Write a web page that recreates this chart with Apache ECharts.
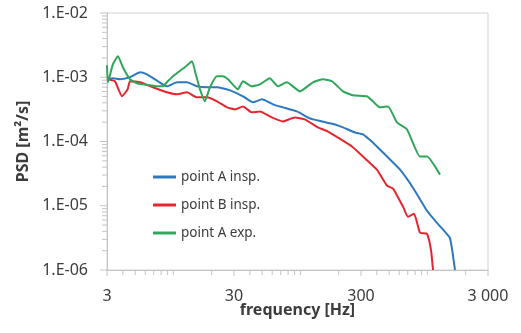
<!DOCTYPE html>
<html>
<head>
<meta charset="utf-8">
<script src="https://cdn.jsdelivr.net/npm/echarts@6/dist/echarts.min.js"></script>
<style>
  html, body { margin: 0; padding: 0; background: #ffffff; }
  #chart { width: 521px; height: 333px; }
</style>
</head>
<body>
<div id="chart"></div>
<script>
// Power spectral density of velocity, three measurement points (log-log)

// point A, inspiration
const freqAInsp = [3.0, 3.34, 3.80, 4.55, 5.46, 6.19, 7.55, 8.89, 10.7, 12.8, 15.3, 18.4, 22.0, 27.9, 35.3, 42.3, 49.8, 60.7, 72.7, 93.7, 118.7, 147.9, 187.2, 216.3, 268.6, 311, 372, 400, 481, 609, 770, 993, 1189, 1376, 1505, 1588, 1649];
const psdAInsp = [9.31e-4, 9.65e-4, 9.31e-4, 1.0e-3, 1.20e-3, 1.11e-3, 8.66e-4, 7.23e-4, 8.35e-4, 8.35e-4, 7.23e-4, 6.98e-4, 6.98e-4, 6.26e-4, 5.05e-4, 4.07e-4, 4.53e-4, 3.79e-4, 3.40e-4, 2.94e-4, 2.29e-4, 2.05e-4, 1.84e-4, 1.66e-4, 1.38e-4, 1.29e-4, 9.65e-5, 8.35e-5, 5.83e-5, 3.65e-5, 1.91e-5, 8.36e-6, 5.42e-6, 3.93e-6, 3.16e-6, 1.71e-6, 1.0e-6];

// point B, inspiration
const freqBInsp = [3.0, 3.46, 3.94, 4.36, 4.55, 5.46, 6.90, 8.89, 10.7, 12.8, 15.3, 18.4, 22.0, 26.4, 30.6, 35.3, 41.5, 48.0, 59.6, 72.7, 90.3, 108.4, 137.3, 165, 197.8, 254.4, 311, 400, 481, 536, 643, 703, 785, 875, 993, 1067, 1107];
const psdBInsp = [9.31e-4, 8.66e-4, 5.05e-4, 6.49e-4, 8.66e-4, 8.35e-4, 6.98e-4, 5.83e-4, 5.42e-4, 5.83e-4, 4.87e-4, 4.87e-4, 4.22e-4, 3.40e-4, 3.16e-4, 3.52e-4, 2.84e-4, 2.94e-4, 2.37e-4, 2.05e-4, 2.37e-4, 2.21e-4, 1.66e-4, 1.43e-4, 1.15e-4, 8.35e-5, 5.83e-5, 3.65e-5, 2.05e-5, 1.85e-5, 9.65e-6, 6.73e-6, 7.5e-6, 3.79e-6, 3.65e-6, 2.05e-6, 1.0e-6];

// point A, expiration
const freqAExp = [3.0, 3.05, 3.34, 3.66, 4.0, 4.55, 5.17, 5.76, 6.54, 7.42, 8.27, 9.03, 9.93, 12.3, 14.0, 15.0, 16.2, 17.7, 19.4, 22.0, 24.5, 26.9, 32.2, 35.3, 41.5, 48.0, 57.4, 66.3, 78.2, 99.1, 125.5, 150.7, 177.4, 216.3, 259.2, 334, 372, 423, 490, 576, 691, 875, 993, 1256];
const psdAExp = [1.54e-3, 8.35e-4, 1.60e-3, 2.13e-3, 1.43e-3, 9.31e-4, 8.06e-4, 7.77e-4, 7.5e-4, 7.23e-4, 7.23e-4, 8.66e-4, 1.04e-3, 1.43e-3, 1.78e-3, 1.11e-3, 6.49e-4, 4.22e-4, 6.98e-4, 1.04e-3, 1.04e-3, 9.31e-4, 6.49e-4, 8.66e-4, 7.23e-4, 7.77e-4, 9.65e-4, 7.23e-4, 8.35e-4, 6.04e-4, 8.35e-4, 9.31e-4, 8.66e-4, 6.04e-4, 5.23e-4, 5.05e-4, 4.22e-4, 3.40e-4, 3.52e-4, 1.98e-4, 1.54e-4, 5.83e-5, 5.83e-5, 3.05e-5];

const seriesNames = ['point A insp.', 'point B insp.', 'point A exp.'];
const seriesColors = ['#2e78c0', '#e6262e', '#2fa659'];

// axis ranges and labelled frequencies
const FREQ_MIN = 3, FREQ_MAX = 3000;
const PSD_MIN = 1e-6, PSD_MAX = 1e-2;
const xLabelValues = [3, 30, 300, 3000];
const xLabelTexts = ['3', '30', '300', '3 000'];

const AXIS_GREY = '#c4c4c4';
const TEXT_COLOR = '#3c3c3c';
const FONT = '"Noto Sans", sans-serif';

function pairs(xs, ys) { return xs.map((x, i) => [x, ys[i]]); }

// tick positions at every 1..9 multiple of each decade
const xTicks = [];
for (let d = 1; d <= 1000; d *= 10) {
  for (let k = 1; k <= 9; k++) {
    const v = k * d;
    if (v >= FREQ_MIN && v <= FREQ_MAX) xTicks.push([v, PSD_MIN]);
  }
}
const yTicks = [];
for (let e = -6; e <= -3; e++) {
  for (let k = 1; k <= 9; k++) yTicks.push([FREQ_MIN, k * Math.pow(10, e), k === 1 ? 1 : 0]);
}
yTicks.push([FREQ_MIN, PSD_MAX, 1]);

function renderXTick(params, api) {
  const f = api.value(0);
  const p = api.coord([f, PSD_MIN]);
  const idx = xLabelValues.indexOf(f);
  const children = [{
    type: 'line',
    shape: { x1: p[0], y1: p[1], x2: p[0], y2: p[1] + (idx >= 0 ? 6 : 5) },
    style: { stroke: AXIS_GREY, lineWidth: 1 }
  }];
  if (idx >= 0) {
    children.push({
      type: 'text',
      style: {
        text: xLabelTexts[idx], x: p[0], y: p[1] + 26,
        align: 'center', verticalAlign: 'middle',
        fill: TEXT_COLOR, fontSize: 16, fontFamily: FONT
      }
    });
  }
  return { type: 'group', children: children };
}

function renderYTick(params, api) {
  const p = api.coord([FREQ_MIN, api.value(1)]);
  const len = api.value(2) ? 7 : 5;
  return {
    type: 'line',
    shape: { x1: p[0] - len, y1: p[1], x2: p[0], y2: p[1] },
    style: { stroke: AXIS_GREY, lineWidth: 1 }
  };
}

const chart = echarts.init(document.getElementById('chart'), null, { renderer: 'canvas' });

chart.setOption({
  animation: false,
  backgroundColor: '#ffffff',
  grid: {
    left: 107, right: 33, top: 13, bottom: 63,
    show: true, borderColor: '#d4d4d4', borderWidth: 1, backgroundColor: 'transparent'
  },
  legend: {
    data: seriesNames,
    orient: 'vertical',
    left: 148, top: 164,
    itemWidth: 23, itemHeight: 3, itemGap: 12,
    icon: 'rect',
    textStyle: { color: TEXT_COLOR, fontSize: 13.5, fontFamily: FONT, lineHeight: 16 }
  },
  xAxis: {
    type: 'log', logBase: 10, min: FREQ_MIN, max: FREQ_MAX,
    name: 'frequency [Hz]', nameLocation: 'middle', nameGap: 32,
    nameTextStyle: { color: TEXT_COLOR, fontSize: 16, fontWeight: 'bold', fontFamily: FONT },
    axisLine: { show: true, lineStyle: { color: AXIS_GREY, width: 1 } },
    axisTick: { show: false },
    axisLabel: { show: false },
    splitLine: { show: false }
  },
  yAxis: {
    type: 'log', logBase: 10, min: PSD_MIN, max: PSD_MAX, interval: 1,
    name: 'PSD [m²/s]', nameLocation: 'middle', nameGap: 68, nameRotate: 90,
    nameTextStyle: { color: TEXT_COLOR, fontSize: 16, fontWeight: 'bold', fontFamily: FONT },
    axisLine: { show: true, lineStyle: { color: AXIS_GREY, width: 1 } },
    axisTick: { show: false },
    axisLabel: {
      color: TEXT_COLOR, fontSize: 16, fontFamily: FONT, margin: 19,
      formatter: v => '1.E-' + String(Math.round(-Math.log10(v))).padStart(2, '0')
    },
    splitLine: { show: false }
  },
  series: [
    {
      name: seriesNames[0], type: 'line', data: pairs(freqAInsp, psdAInsp),
      showSymbol: false, smooth: 0.15, color: seriesColors[0],
      lineStyle: { width: 2 }, z: 3
    },
    {
      name: seriesNames[1], type: 'line', data: pairs(freqBInsp, psdBInsp),
      showSymbol: false, smooth: 0.15, color: seriesColors[1],
      lineStyle: { width: 2 }, z: 2
    },
    {
      name: seriesNames[2], type: 'line', data: pairs(freqAExp, psdAExp),
      showSymbol: false, smooth: 0.15, color: seriesColors[2],
      lineStyle: { width: 2 }, z: 4
    },
    {
      name: 'x ticks', type: 'custom', data: xTicks, renderItem: renderXTick,
      silent: true, clip: false, z: 1, tooltip: { show: false }
    },
    {
      name: 'y ticks', type: 'custom', data: yTicks, renderItem: renderYTick,
      silent: true, clip: false, z: 1, tooltip: { show: false }
    }
  ]
});
</script>
</body>
</html>
